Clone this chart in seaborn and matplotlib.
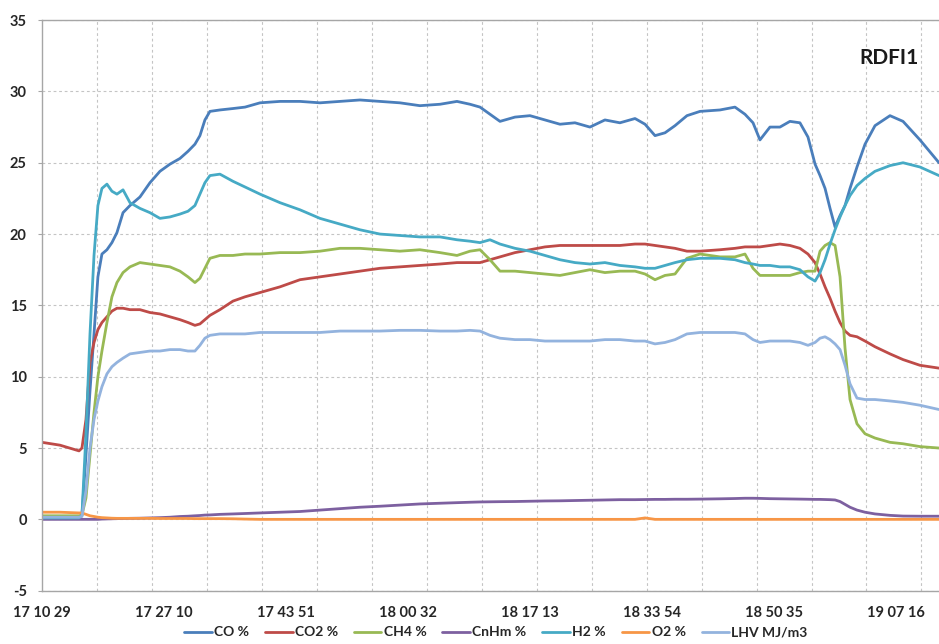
import matplotlib
matplotlib.use("Agg")
import matplotlib.pyplot as plt
import seaborn as sns
import pandas as pd

# Elapsed time (s) since the first record at 17:10:29
elapsed_s = [0, 148, 304, 328, 361, 394, 427, 459, 492, 533,
             574, 615, 665, 722, 804, 886, 968, 1050, 1132, 1198,
             1255, 1296, 1337, 1378, 1460, 1567, 1666, 1789, 1953, 2117,
             2281, 2445, 2609, 2773, 2937, 3101, 3266, 3405, 3512, 3594,
             3676, 3758, 3881, 4004, 4127, 4250, 4373, 4496, 4619, 4742,
             4866, 4948, 5030, 5112, 5194, 5292, 5399, 5563, 5686, 5768,
             5834, 5891, 5973, 6055, 6137, 6219, 6285, 6343, 6384, 6425,
             6466, 6507, 6548, 6589, 6630, 6687, 6753, 6835, 6958, 7065,
             7204, 7360]

co = [0.1, 0.1, 0.1, 0.3, 4.5, 9.0, 13.0, 17.0, 18.6, 18.9,
      19.4, 20.1, 21.5, 22.0, 22.6, 23.6, 24.4, 24.9, 25.3, 25.8,
      26.3, 26.9, 28.0, 28.6, 28.7, 28.8, 28.9, 29.2, 29.3, 29.3,
      29.2, 29.3, 29.4, 29.3, 29.2, 29.0, 29.1, 29.3, 29.1, 28.9,
      28.4, 27.9, 28.2, 28.3, 28.0, 27.7, 27.8, 27.5, 28.0, 27.8,
      28.1, 27.7, 26.9, 27.1, 27.6, 28.3, 28.6, 28.7, 28.9, 28.4,
      27.8, 26.6, 27.5, 27.5, 27.9, 27.8, 26.8, 24.9, 24.1, 23.2,
      21.8, 20.5, 21.3, 22.0, 23.2, 24.7, 26.3, 27.6, 28.3, 27.9,
      26.6, 25.0]

co2 = [5.4, 5.2, 4.8, 5.0, 7.0, 11.0, 12.4, 13.3, 13.8, 14.2,
       14.6, 14.8, 14.8, 14.7, 14.7, 14.5, 14.4, 14.2, 14.0, 13.8,
       13.6, 13.7, 14.0, 14.3, 14.7, 15.3, 15.6, 15.9, 16.3, 16.8,
       17.0, 17.2, 17.4, 17.6, 17.7, 17.8, 17.9, 18.0, 18.0, 18.0,
       18.2, 18.4, 18.7, 18.9, 19.1, 19.2, 19.2, 19.2, 19.2, 19.2,
       19.3, 19.3, 19.2, 19.1, 19.0, 18.8, 18.8, 18.9, 19.0, 19.1,
       19.1, 19.1, 19.2, 19.3, 19.2, 19.0, 18.6, 18.0, 17.2, 16.3,
       15.5, 14.6, 13.8, 13.2, 12.9, 12.8, 12.5, 12.1, 11.6, 11.2,
       10.8, 10.6]

ch4 = [0.25, 0.25, 0.25, 0.3, 1.5, 4.5, 7.5, 10.0, 11.8, 13.8,
       15.6, 16.6, 17.3, 17.7, 18.0, 17.9, 17.8, 17.7, 17.4, 17.0,
       16.6, 16.9, 17.6, 18.3, 18.5, 18.5, 18.6, 18.6, 18.7, 18.7,
       18.8, 19.0, 19.0, 18.9, 18.8, 18.9, 18.7, 18.5, 18.8, 18.9,
       18.2, 17.4, 17.4, 17.3, 17.2, 17.1, 17.3, 17.5, 17.3, 17.4,
       17.4, 17.2, 16.8, 17.1, 17.2, 18.3, 18.6, 18.4, 18.4, 18.6,
       17.6, 17.1, 17.1, 17.1, 17.1, 17.3, 17.4, 17.4, 18.8, 19.2,
       19.4, 19.2, 17.0, 12.0, 8.4, 6.7, 6.0, 5.7, 5.4, 5.3,
       5.1, 5.0]

cnhm = [0.0, 0.0, 0.0, 0.0, 0.0, 0.0, 0.0, 0.0, 0.02, 0.03,
        0.04, 0.05, 0.06, 0.07, 0.08, 0.1, 0.12, 0.15, 0.2, 0.22,
        0.25, 0.27, 0.3, 0.31, 0.35, 0.38, 0.41, 0.45, 0.5, 0.55,
        0.65, 0.75, 0.85, 0.92, 1.0, 1.08, 1.13, 1.17, 1.2, 1.22,
        1.23, 1.24, 1.25, 1.27, 1.29, 1.3, 1.32, 1.34, 1.36, 1.38,
        1.38, 1.39, 1.4, 1.4, 1.41, 1.41, 1.42, 1.44, 1.46, 1.48,
        1.48, 1.47, 1.45, 1.44, 1.43, 1.42, 1.41, 1.4, 1.4, 1.39,
        1.38, 1.36, 1.25, 1.05, 0.85, 0.65, 0.5, 0.38, 0.28, 0.23,
        0.22, 0.22]

h2 = [0.1, 0.1, 0.1, 0.3, 6.0, 13.0, 18.5, 22.0, 23.2, 23.5,
      23.0, 22.8, 23.1, 22.2, 21.8, 21.5, 21.1, 21.2, 21.4, 21.6,
      22.0, 22.8, 23.6, 24.1, 24.2, 23.7, 23.3, 22.8, 22.2, 21.7,
      21.1, 20.7, 20.3, 20.0, 19.9, 19.8, 19.8, 19.6, 19.5, 19.4,
      19.6, 19.3, 19.0, 18.8, 18.5, 18.2, 18.0, 17.9, 18.0, 17.8,
      17.7, 17.6, 17.6, 17.8, 18.0, 18.2, 18.3, 18.3, 18.2, 18.0,
      17.9, 17.8, 17.8, 17.7, 17.7, 17.5, 17.0, 16.7, 17.3, 18.2,
      19.3, 20.3, 21.2, 22.0, 22.7, 23.4, 23.9, 24.4, 24.8, 25.0,
      24.7, 24.1]

o2 = [0.5, 0.5, 0.45, 0.45, 0.35, 0.25, 0.2, 0.15, 0.12, 0.1,
      0.08, 0.07, 0.07, 0.07, 0.07, 0.07, 0.06, 0.06, 0.06, 0.06,
      0.05, 0.05, 0.05, 0.05, 0.05, 0.04, 0.02, 0.0, 0.0, 0.0,
      0.0, 0.0, 0.0, 0.0, 0.0, 0.0, 0.0, 0.0, 0.0, 0.0,
      0.0, 0.0, 0.0, 0.0, 0.0, 0.0, 0.0, 0.0, 0.0, 0.0,
      0.0, 0.1, 0.0, 0.0, 0.0, 0.0, 0.0, 0.0, 0.0, 0.0,
      0.0, 0.0, 0.0, 0.0, 0.0, 0.0, 0.0, 0.0, 0.0, 0.0,
      0.0, 0.0, 0.0, 0.0, 0.0, 0.0, 0.0, 0.0, 0.0, 0.0,
      0.0, 0.0]

lhv = [0.15, 0.15, 0.15, 0.2, 2.0, 5.0, 7.0, 8.3, 9.3, 10.2,
       10.7, 11.0, 11.3, 11.6, 11.7, 11.8, 11.8, 11.9, 11.9, 11.8,
       11.8, 12.2, 12.7, 12.9, 13.0, 13.0, 13.0, 13.1, 13.1, 13.1,
       13.1, 13.2, 13.2, 13.2, 13.25, 13.25, 13.2, 13.2, 13.25, 13.2,
       12.9, 12.7, 12.6, 12.6, 12.5, 12.5, 12.5, 12.5, 12.6, 12.6,
       12.5, 12.5, 12.3, 12.4, 12.6, 13.0, 13.1, 13.1, 13.1, 13.0,
       12.6, 12.4, 12.5, 12.5, 12.5, 12.4, 12.2, 12.4, 12.7, 12.8,
       12.6, 12.3, 11.9, 10.8, 9.5, 8.5, 8.4, 8.4, 8.3, 8.2,
       8.0, 7.7]

series_names = ["CO %", "CO2 %", "CH4 %", "CnHm %", "H2 %", "O2 %", "LHV MJ/m3"]
series_values = [co, co2, ch4, cnhm, h2, o2, lhv]
series_colors = ["#4A7EBB", "#BE4B48", "#98B954", "#7D60A0", "#46AAC5", "#F79646", "#93B3DE"]

tick_seconds = [0, 1001, 2002, 3003, 4004, 5005, 6006, 7007]
tick_labels = ["17 10 29", "17 27 10", "17 43 51", "18 00 32",
               "18 17 13", "18 33 54", "18 50 35", "19 07 16"]
grid_seconds = [451 * k for k in range(1, 17)]

df = pd.concat(
    [pd.DataFrame({"t": elapsed_s, "value": vals, "series": name})
     for name, vals in zip(series_names, series_values)],
    ignore_index=True,
)

sns.set_theme(style="white")
plt.rcParams["font.family"] = ["Lato", "DejaVu Sans"]
plt.rcParams["axes.unicode_minus"] = False

fig = plt.figure(figsize=(9.39, 6.44), dpi=100)
ax = fig.add_axes([0.0447, 0.0828, 0.9553, 0.886])

sns.lineplot(
    data=df, x="t", y="value", hue="series", hue_order=series_names,
    palette=dict(zip(series_names, series_colors)),
    estimator=None, sort=False, linewidth=2.0, legend=False, ax=ax,
)

ax.set_xlim(0, 7360)
ax.set_ylim(-5, 35)
ax.set_yticks(range(-5, 36, 5))
ax.set_xticks(tick_seconds)
ax.set_xticklabels(tick_labels)
ax.set_xticks(grid_seconds, minor=True)
ax.set_xlabel("")
ax.set_ylabel("")

grid_style = dict(color="#C4C4C4", linewidth=0.8, linestyle=(0, (2.5, 2.5)))
ax.grid(False)
ax.grid(True, which="minor", axis="x", **grid_style)
ax.grid(True, which="major", axis="y", **grid_style)
ax.set_axisbelow(True)

for side in ("left", "bottom", "top"):
    ax.spines[side].set_visible(True)
    ax.spines[side].set_color("#A6A6A6")
    ax.spines[side].set_linewidth(1.0)
ax.spines["right"].set_visible(False)

ax.tick_params(axis="y", which="major", left=True, length=3, width=0.8,
               color="#A6A6A6", pad=8, labelsize=10.5, labelcolor="#262626")
ax.tick_params(axis="x", which="major", bottom=False, length=0, pad=11,
               labelsize=10.5, labelcolor="#262626")
ax.tick_params(axis="x", which="minor", bottom=False, length=0)
for lab in ax.get_xticklabels() + ax.get_yticklabels():
    lab.set_fontweight("bold")

fig.text(889 / 939, 1 - 58 / 644, "RDFI1", ha="center", va="center",
         fontsize=15, fontweight="bold", color="#1A1A1A")

handles = ax.get_lines()[:len(series_names)]
fig.legend(handles, series_names, loc="center", bbox_to_anchor=(0.528, 0.018),
           ncol=7, frameon=False, handlelength=2.0, handletextpad=0.15,
           columnspacing=1.15, prop={"size": 10, "weight": "bold"},
           labelcolor="#262626")

fig.savefig("out.png", dpi=100)
